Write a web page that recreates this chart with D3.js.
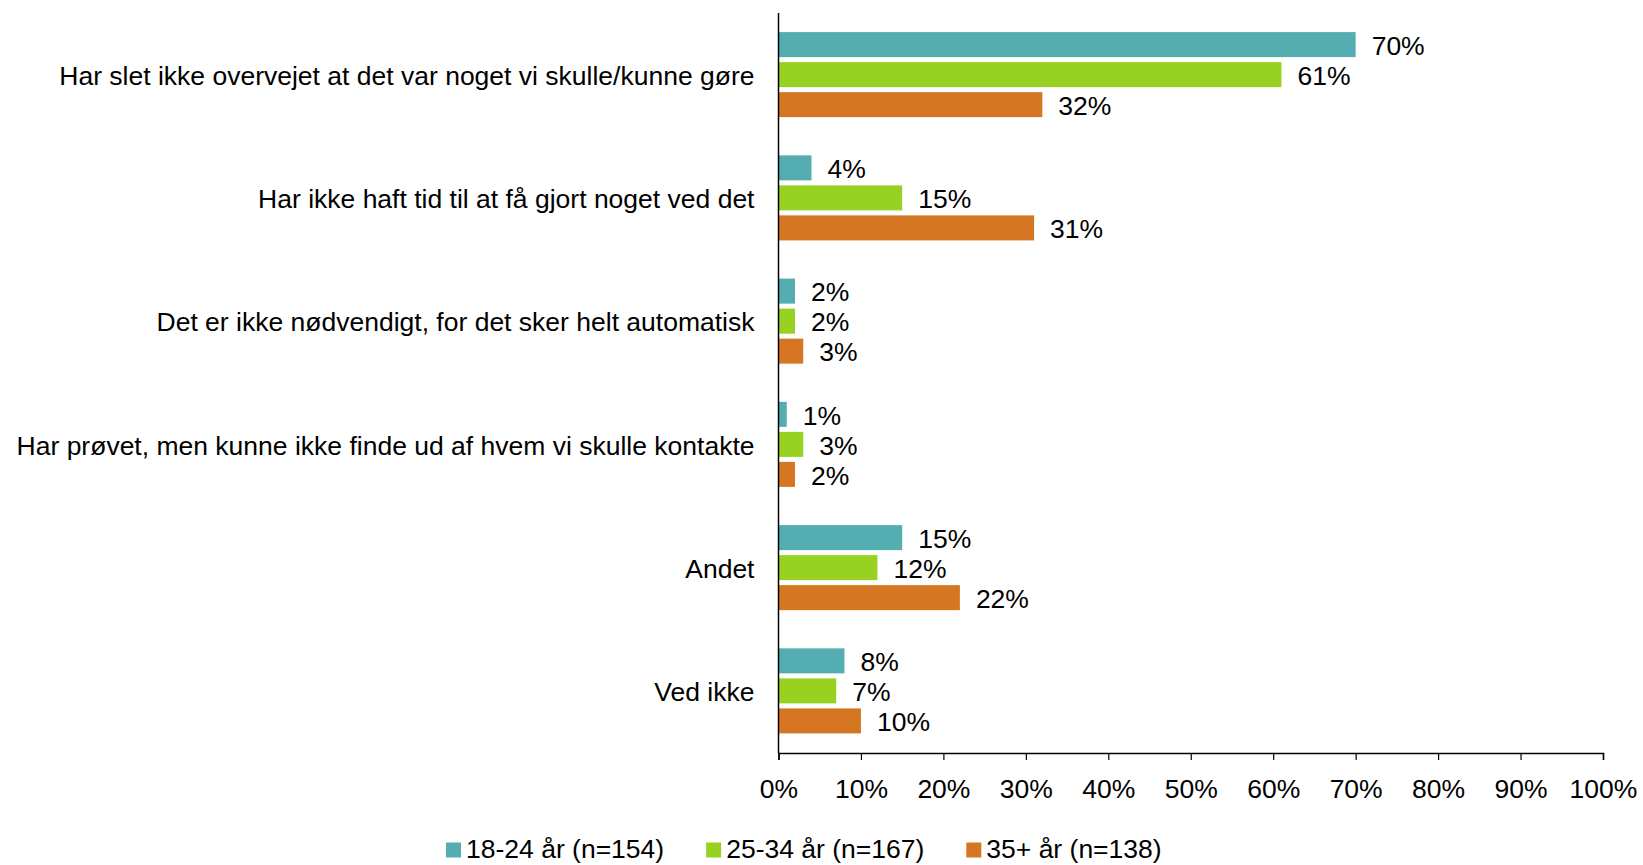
<!DOCTYPE html>
<meta charset="utf-8">
<style>
  body { margin: 0; background: #fff; }
  text { font-family: "Liberation Sans", Arial, sans-serif; fill: #000; }
</style>
<div id="chart"></div>
<script src="https://cdn.jsdelivr.net/npm/d3@7"></script>
<script>

// data
var categories = [
  "Har slet ikke overvejet at det var noget vi skulle/kunne gøre",
  "Har ikke haft tid til at få gjort noget ved det",
  "Det er ikke nødvendigt, for det sker helt automatisk",
  "Har prøvet, men kunne ikke finde ud af hvem vi skulle kontakte",
  "Andet",
  "Ved ikke"
];
var seriesNames = ["18-24 år (n=154)", "25-34 år (n=167)", "35+ år (n=138)"];
var seriesColors = ["#53adb1", "#97d122", "#d57623"];
var age18 = [70, 4, 2, 1, 15, 8];
var age25 = [61, 15, 2, 3, 12, 7];
var age35 = [32, 31, 3, 2, 22, 10];
var tickValues = [0, 10, 20, 30, 40, 50, 60, 70, 80, 90, 100];

var seriesValues = [age18, age25, age35];

var width = 1643, height = 865;
var margin = {top: 13, right: 40, bottom: 112, left: 778.5};

var svg = d3.select("#chart").append("svg")
    .attr("width", width)
    .attr("height", height);

var x = d3.scaleLinear()
    .domain([0, 100])
    .range([margin.left, 1603]);

var y0 = d3.scaleBand()
    .domain(categories)
    .range([margin.top, height - margin.bottom - 0.5])
    .paddingInner(0.31)
    .paddingOuter(0.155);

var y1 = d3.scaleBand()
    .domain(seriesNames)
    .range([0, y0.bandwidth()])
    .paddingInner(1 / 6);

var fontSize = "26.5px";

// bars
var groups = svg.selectAll(".group")
    .data(categories)
    .enter().append("g")
    .attr("class", "group")
    .attr("transform", function(d) { return "translate(0," + y0(d) + ")"; });

groups.selectAll("rect")
    .data(function(d, i) {
      return seriesNames.map(function(s, j) {
        return {series: s, value: seriesValues[j][i], color: seriesColors[j]};
      });
    })
    .enter().append("rect")
    .attr("x", x(0))
    .attr("y", function(d) { return y1(d.series); })
    .attr("width", function(d) { return x(d.value) - x(0); })
    .attr("height", y1.bandwidth())
    .attr("fill", function(d) { return d.color; });

groups.selectAll(".val")
    .data(function(d, i) {
      return seriesNames.map(function(s, j) {
        return {series: s, value: seriesValues[j][i]};
      });
    })
    .enter().append("text")
    .attr("class", "val")
    .attr("x", function(d) { return x(d.value) + 16; })
    .attr("y", function(d) { return y1(d.series) + y1.bandwidth() / 2 + 1; })
    .attr("dy", "0.35em")
    .style("font-size", fontSize)
    .text(function(d) { return d.value + "%"; });

// category labels
svg.selectAll(".cat")
    .data(categories)
    .enter().append("text")
    .attr("class", "cat")
    .attr("text-anchor", "end")
    .attr("x", margin.left - 24)
    .attr("y", function(d) { return y0(d) + y0.bandwidth() / 2 + 1; })
    .attr("dy", "0.35em")
    .style("font-size", fontSize)
    .text(function(d) { return d; });

// axes
var axisY = height - margin.bottom;

svg.append("line")
    .attr("x1", x(0)).attr("x2", x(0))
    .attr("y1", margin.top).attr("y2", axisY)
    .attr("stroke", "#000")
    .attr("stroke-width", 1.5);

var xAxis = svg.append("g")
    .attr("transform", "translate(0," + axisY + ")")
    .call(d3.axisBottom(x)
      .tickValues(tickValues)
      .tickSize(7)
      .tickPadding(19)
      .tickFormat(function(d) { return d + "%"; }));

xAxis.select(".domain").attr("stroke", "#000").attr("stroke-width", 1.5);
xAxis.selectAll(".tick line").attr("stroke", "#000").attr("stroke-width", 1.2);
xAxis.selectAll("text")
    .attr("fill", "#000")
    .style("font-family", "\"Liberation Sans\", Arial, sans-serif")
    .style("font-size", fontSize);

// legend
var legend = svg.append("g")
    .attr("transform", "translate(446,850)");

var lx = 0;
seriesNames.forEach(function(s, j) {
  var item = legend.append("g").attr("transform", "translate(" + lx + ",0)");
  item.append("rect")
      .attr("x", 0)
      .attr("y", -7.5)
      .attr("width", 15)
      .attr("height", 15)
      .attr("fill", seriesColors[j]);
  var t = item.append("text")
      .attr("x", 20)
      .attr("y", 7.5)
      .style("font-size", fontSize)
      .text(s);
  lx += 20 + t.node().getComputedTextLength() + 42;
});
</script>
